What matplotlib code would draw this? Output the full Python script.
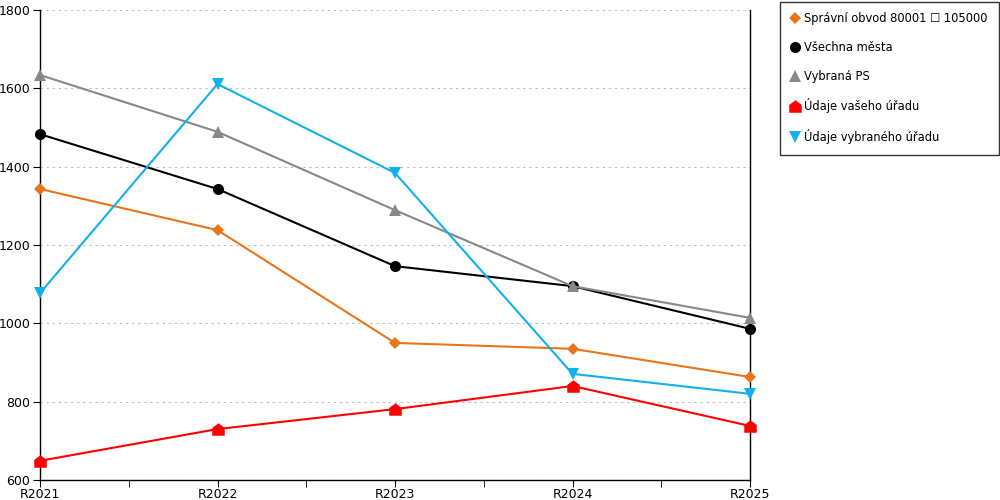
import matplotlib
matplotlib.use("Agg")
import matplotlib.pyplot as plt
from matplotlib.path import Path
from matplotlib.ticker import MultipleLocator

categories = ["R2021", "R2022", "R2023", "R2024", "R2025"]
spravni = [1343, 1238, 950, 935, 863]
vsechna = [1483, 1343, 1146, 1095, 986]
vybrana_ps = [1634, 1489, 1289, 1095, 1014]
vas_urad = [649, 730, 781, 840, 738]
vybrany_urad = [1077, 1611, 1384, 871, 820]

labels = ["Správní obvod 80001 \u2610 105000", "Všechna města", "Vybraná PS",
          "Údaje vašeho úřadu", "Údaje vybraného úřadu"]

house = Path([(-1, -1), (1, -1), (1, 0.25), (0, 1), (-1, 0.25), (-1, -1)],
             [Path.MOVETO, Path.LINETO, Path.LINETO, Path.LINETO, Path.LINETO, Path.CLOSEPOLY])

plt.rcParams['font.family'] = ['DejaVu Sans']
fig = plt.figure(figsize=(10, 5), dpi=100)
ax = fig.add_axes([0.04, 0.04, 0.71, 0.94])

x = list(range(len(categories)))
series = [
    (spravni, "#E8751A", "D", 6),
    (vsechna, "#000000", "o", 8),
    (vybrana_ps, "#888888", "^", 8),
    (vas_urad, "#FF0000", house, 9),
    (vybrany_urad, "#12B0EC", "v", 8),
]
handles = []
for (vals, col, mk, ms), lab in zip(series, labels):
    h, = ax.plot(x, vals, color=col, marker=mk, markersize=ms, linewidth=1.5,
                 markeredgewidth=0, label=lab, clip_on=False, zorder=3)
    handles.append(h)

ax.set_xlim(0, 4)
ax.set_ylim(600, 1800)
ax.set_xticks(x)
ax.set_xticklabels(categories)
ax.xaxis.set_minor_locator(MultipleLocator(0.5))
ax.yaxis.set_major_locator(MultipleLocator(200))
ax.grid(axis='y', linestyle=(0, (2, 3.5)), color="#BBBBBB", linewidth=0.8)
ax.set_axisbelow(True)
for s in ["left", "right", "bottom"]:
    ax.spines[s].set_color("black")
    ax.spines[s].set_linewidth(1)
ax.spines["top"].set_visible(False)
ax.tick_params(axis='x', which='major', direction='out', length=5, labelsize=9, pad=1)
ax.tick_params(axis='x', which='minor', direction='out', length=5)
ax.tick_params(axis='y', direction='out', length=5, labelsize=9, pad=2)

leg = fig.legend(handles=handles, loc="upper left", bbox_to_anchor=(0.78, 0.997),
                 frameon=True, fancybox=False, edgecolor="black", fontsize=8.3,
                 handlelength=0.7, handletextpad=0.45, labelspacing=1.35,
                 borderpad=0.95, borderaxespad=0, markerscale=1.0)
leg.get_frame().set_linewidth(1)
for lh in leg.get_lines():
    lh.set_linestyle("none")
fig.savefig("out.png", dpi=100)
